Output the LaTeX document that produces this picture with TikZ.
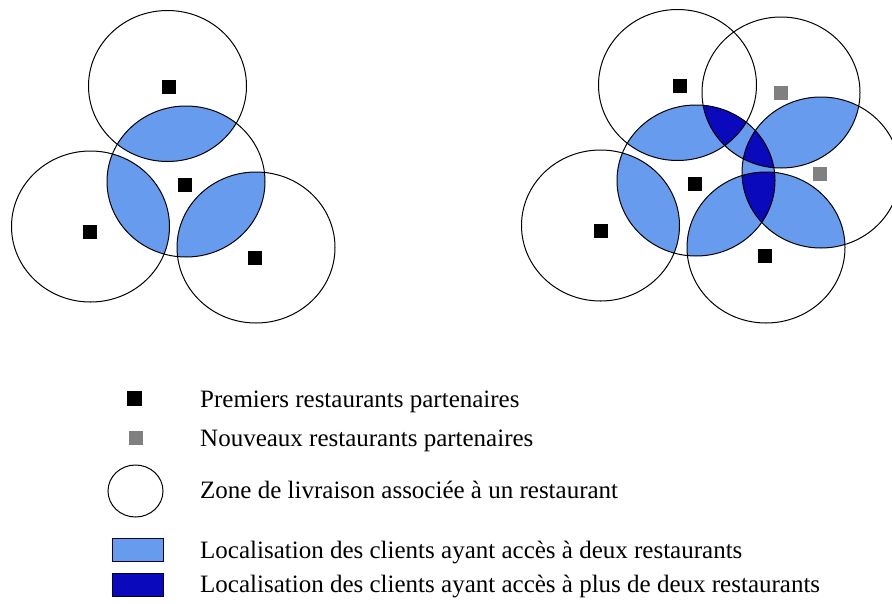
\documentclass[tikz,border=0pt]{standalone}
\usepackage{fontspec}
\setmainfont{Liberation Serif}

\definecolor{twoblue}{RGB}{102,155,238}
\definecolor{moreblue}{RGB}{10,10,188}
\definecolor{newgray}{RGB}{128,128,128}

\begin{document}
\begin{tikzpicture}[x=1pt, y=-1pt,
    x radius=79pt, y radius=75.5pt,
    zone/.style = {draw, line width=1pt},
    resto/.style = {fill=black, minimum size=14pt, inner sep=0pt},
    newresto/.style = {fill=newgray, minimum size=14pt, inner sep=0pt},
    legbox/.style = {draw=black!80!blue, line width=0.8pt, minimum width=51pt, minimum height=23pt, inner sep=0pt},
    legtext/.style = {anchor=base west, inner sep=0pt, font=\fontsize{25}{30}\selectfont}
  ]
  \useasboundingbox (0,0) rectangle (892,603);

  % Zone centres, left group
  \coordinate (aT) at (167.5,86);
  \coordinate (aM) at (186,181.5);
  \coordinate (aL) at (90.5,226.5);
  \coordinate (aR) at (256,247.5);

  % Zone centres, right group
  \coordinate (bTL) at (677.5,85);
  \coordinate (bTR) at (781,92.5);
  \coordinate (bM) at (696,180.5);
  \coordinate (bRR) at (821,172.5);
  \coordinate (bLL) at (600.5,225.5);
  \coordinate (bB) at (766,247.5);

  % Two restaurants (left)
  \foreach \o in {aT,aL,aR}{
    \begin{scope}
      \clip (aM) ellipse [];
      \fill[twoblue] (\o) ellipse [];
    \end{scope}
  }

  % Two restaurants (right)
  \foreach \p/\q in {bM/bTL,bM/bTR,bM/bLL,bM/bB,bM/bRR,bTR/bRR,bRR/bB}{
    \begin{scope}
      \clip (\p) ellipse [];
      \fill[twoblue] (\q) ellipse [];
    \end{scope}
  }

  % More than two restaurants
  \foreach \p/\q/\r in {bTL/bM/bTR,bM/bTR/bRR,bM/bRR/bB}{
    \begin{scope}
      \clip (\p) ellipse [];
      \clip (\q) ellipse [];
      \fill[moreblue] (\r) ellipse [];
    \end{scope}
  }

  % Zone outlines
  \foreach \c in {aT,aM,aL,aR,bTL,bTR,bM,bRR,bLL,bB}
    \draw[zone] (\c) ellipse [];

  % Restaurants
  \node[resto] (rT) at (169,86.5) {};
  \node[resto] (rM) at (185,185) {};
  \node[resto] (rL) at (90,232) {};
  \node[resto] (rR) at (255,257.5) {};

  \node[resto] (sTL) at (680,86) {};
  \node[newresto] (sTR) at (781,92.5) {};
  \node[resto] (sM) at (695,184) {};
  \node[newresto] (sRR) at (820,174) {};
  \node[resto] (sLL) at (601,231) {};
  \node[resto] (sB) at (765,256) {};

  % Legend
  \node[resto, minimum size=15pt] (k1) at (134.5,398.5) {};
  \node[newresto] (k2) at (135.5,437.5) {};
  \draw[line width=1pt] (135.5,491) ellipse [x radius=27.5pt, y radius=26pt];
  \node[legbox, fill=twoblue] (k4) at (137.5,550) {};
  \node[legbox, fill=moreblue] (k5) at (137.5,585) {};

  \node[legtext] (t1) at (200,407.5) {Premiers restaurants partenaires};
  \node[legtext] (t2) at (200,446.5) {Nouveaux restaurants partenaires};
  \node[legtext] (t3) at (200,498) {Zone de livraison associée à un restaurant};
  \node[legtext] (t4) at (200,558) {Localisation des clients ayant accès à deux restaurants};
  \node[legtext] (t5) at (200,592.5) {Localisation des clients ayant accès à plus de deux restaurants};

\end{tikzpicture}
\end{document}
